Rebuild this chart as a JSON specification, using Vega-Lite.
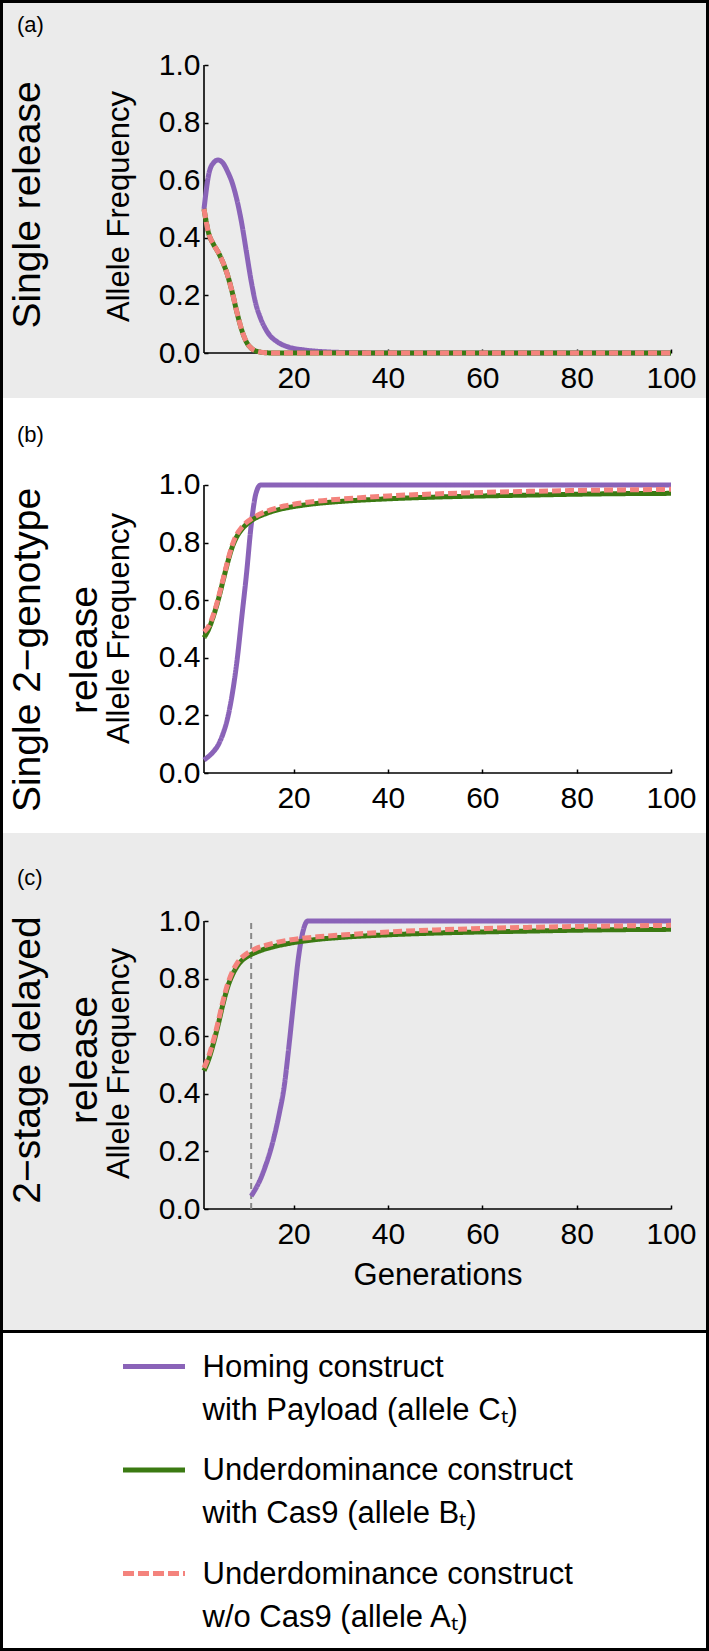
{
  "$schema": "https://vega.github.io/schema/vega-lite/v6.json",
  "background": "#000000",
  "padding": 3,
  "spacing": 3,
  "datasets": {
    "panels": [
      {"panel": "a", "tag": "(a)", "name": ["Single release"]},
      {"panel": "b", "tag": "(b)", "name": ["Single 2−genotype", "release"]},
      {"panel": "c", "tag": "(c)", "name": ["2−stage delayed", "release"], "release": 11}
    ],
    "constructs": [{"series": "C"}, {"series": "B"}, {"series": "A"}],
    "curves": [
      {"panel":"a","series":"C","x":1,"y":0.5},{"panel":"a","series":"C","x":2,"y":0.62},{"panel":"a","series":"C","x":3,"y":0.66},{"panel":"a","series":"C","x":4,"y":0.67},{"panel":"a","series":"C","x":5,"y":0.66},{"panel":"a","series":"C","x":6,"y":0.63},{"panel":"a","series":"C","x":7,"y":0.59},{"panel":"a","series":"C","x":8,"y":0.53},{"panel":"a","series":"C","x":9,"y":0.45},{"panel":"a","series":"C","x":10,"y":0.35},{"panel":"a","series":"C","x":11,"y":0.25},{"panel":"a","series":"C","x":12,"y":0.17},{"panel":"a","series":"C","x":13,"y":0.12},{"panel":"a","series":"C","x":14,"y":0.085},{"panel":"a","series":"C","x":15,"y":0.06},{"panel":"a","series":"C","x":16,"y":0.045},{"panel":"a","series":"C","x":17,"y":0.034},{"panel":"a","series":"C","x":18,"y":0.026},{"panel":"a","series":"C","x":20,"y":0.016},{"panel":"a","series":"C","x":22,"y":0.011},{"panel":"a","series":"C","x":25,"y":0.006},{"panel":"a","series":"C","x":30,"y":0.002},{"panel":"a","series":"C","x":40,"y":0},{"panel":"a","series":"C","x":60,"y":0},{"panel":"a","series":"C","x":80,"y":0},{"panel":"a","series":"C","x":100,"y":0},
      {"panel":"a","series":"B","x":1,"y":0.5},{"panel":"a","series":"B","x":2,"y":0.415},{"panel":"a","series":"B","x":3,"y":0.378},{"panel":"a","series":"B","x":4,"y":0.35},{"panel":"a","series":"B","x":5,"y":0.315},{"panel":"a","series":"B","x":6,"y":0.27},{"panel":"a","series":"B","x":7,"y":0.21},{"panel":"a","series":"B","x":8,"y":0.14},{"panel":"a","series":"B","x":9,"y":0.08},{"panel":"a","series":"B","x":10,"y":0.038},{"panel":"a","series":"B","x":11,"y":0.017},{"panel":"a","series":"B","x":12,"y":0.007},{"panel":"a","series":"B","x":13,"y":0.003},{"panel":"a","series":"B","x":14,"y":0.001},{"panel":"a","series":"B","x":16,"y":0},{"panel":"a","series":"B","x":20,"y":0},{"panel":"a","series":"B","x":40,"y":0},{"panel":"a","series":"B","x":60,"y":0},{"panel":"a","series":"B","x":80,"y":0},{"panel":"a","series":"B","x":100,"y":0},
      {"panel":"a","series":"A","x":1,"y":0.5},{"panel":"a","series":"A","x":2,"y":0.415},{"panel":"a","series":"A","x":3,"y":0.378},{"panel":"a","series":"A","x":4,"y":0.35},{"panel":"a","series":"A","x":5,"y":0.315},{"panel":"a","series":"A","x":6,"y":0.27},{"panel":"a","series":"A","x":7,"y":0.21},{"panel":"a","series":"A","x":8,"y":0.14},{"panel":"a","series":"A","x":9,"y":0.08},{"panel":"a","series":"A","x":10,"y":0.038},{"panel":"a","series":"A","x":11,"y":0.017},{"panel":"a","series":"A","x":12,"y":0.007},{"panel":"a","series":"A","x":13,"y":0.003},{"panel":"a","series":"A","x":14,"y":0.001},{"panel":"a","series":"A","x":16,"y":0},{"panel":"a","series":"A","x":20,"y":0},{"panel":"a","series":"A","x":40,"y":0},{"panel":"a","series":"A","x":60,"y":0},{"panel":"a","series":"A","x":80,"y":0},{"panel":"a","series":"A","x":100,"y":0},
      {"panel":"b","series":"C","x":1,"y":0.045},{"panel":"b","series":"C","x":2,"y":0.058},{"panel":"b","series":"C","x":3,"y":0.074},{"panel":"b","series":"C","x":4,"y":0.097},{"panel":"b","series":"C","x":5,"y":0.135},{"panel":"b","series":"C","x":6,"y":0.19},{"panel":"b","series":"C","x":7,"y":0.275},{"panel":"b","series":"C","x":8,"y":0.39},{"panel":"b","series":"C","x":9,"y":0.54},{"panel":"b","series":"C","x":10,"y":0.69},{"panel":"b","series":"C","x":11,"y":0.86},{"panel":"b","series":"C","x":12,"y":0.97},{"panel":"b","series":"C","x":13,"y":1.0},{"panel":"b","series":"C","x":20,"y":1.0},{"panel":"b","series":"C","x":40,"y":1.0},{"panel":"b","series":"C","x":60,"y":1.0},{"panel":"b","series":"C","x":80,"y":1.0},{"panel":"b","series":"C","x":100,"y":1.0},
      {"panel":"b","series":"B","x":1,"y":0.47},{"panel":"b","series":"B","x":2,"y":0.5},{"panel":"b","series":"B","x":3,"y":0.545},{"panel":"b","series":"B","x":4,"y":0.6},{"panel":"b","series":"B","x":5,"y":0.665},{"panel":"b","series":"B","x":6,"y":0.73},{"panel":"b","series":"B","x":7,"y":0.785},{"panel":"b","series":"B","x":8,"y":0.822},{"panel":"b","series":"B","x":9,"y":0.846},{"panel":"b","series":"B","x":10,"y":0.863},{"panel":"b","series":"B","x":11,"y":0.876},{"panel":"b","series":"B","x":12,"y":0.886},{"panel":"b","series":"B","x":14,"y":0.9},{"panel":"b","series":"B","x":16,"y":0.911},{"panel":"b","series":"B","x":18,"y":0.919},{"panel":"b","series":"B","x":20,"y":0.925},{"panel":"b","series":"B","x":25,"y":0.936},{"panel":"b","series":"B","x":30,"y":0.943},{"panel":"b","series":"B","x":40,"y":0.952},{"panel":"b","series":"B","x":50,"y":0.958},{"panel":"b","series":"B","x":60,"y":0.962},{"panel":"b","series":"B","x":70,"y":0.965},{"panel":"b","series":"B","x":80,"y":0.968},{"panel":"b","series":"B","x":90,"y":0.97},{"panel":"b","series":"B","x":100,"y":0.971},
      {"panel":"b","series":"A","x":1,"y":0.49},{"panel":"b","series":"A","x":2,"y":0.51},{"panel":"b","series":"A","x":3,"y":0.55},{"panel":"b","series":"A","x":4,"y":0.605},{"panel":"b","series":"A","x":5,"y":0.67},{"panel":"b","series":"A","x":6,"y":0.735},{"panel":"b","series":"A","x":7,"y":0.792},{"panel":"b","series":"A","x":8,"y":0.83},{"panel":"b","series":"A","x":9,"y":0.853},{"panel":"b","series":"A","x":10,"y":0.87},{"panel":"b","series":"A","x":11,"y":0.882},{"panel":"b","series":"A","x":12,"y":0.892},{"panel":"b","series":"A","x":14,"y":0.907},{"panel":"b","series":"A","x":16,"y":0.918},{"panel":"b","series":"A","x":18,"y":0.927},{"panel":"b","series":"A","x":20,"y":0.933},{"panel":"b","series":"A","x":25,"y":0.944},{"panel":"b","series":"A","x":30,"y":0.951},{"panel":"b","series":"A","x":40,"y":0.962},{"panel":"b","series":"A","x":50,"y":0.969},{"panel":"b","series":"A","x":60,"y":0.974},{"panel":"b","series":"A","x":70,"y":0.978},{"panel":"b","series":"A","x":80,"y":0.981},{"panel":"b","series":"A","x":90,"y":0.983},{"panel":"b","series":"A","x":100,"y":0.985},
      {"panel":"c","series":"C","x":11,"y":0.045},{"panel":"c","series":"C","x":12,"y":0.072},{"panel":"c","series":"C","x":13,"y":0.105},{"panel":"c","series":"C","x":14,"y":0.148},{"panel":"c","series":"C","x":15,"y":0.198},{"panel":"c","series":"C","x":16,"y":0.26},{"panel":"c","series":"C","x":17,"y":0.335},{"panel":"c","series":"C","x":18,"y":0.425},{"panel":"c","series":"C","x":19,"y":0.565},{"panel":"c","series":"C","x":20,"y":0.72},{"panel":"c","series":"C","x":21,"y":0.87},{"panel":"c","series":"C","x":22,"y":0.965},{"panel":"c","series":"C","x":23,"y":1.0},{"panel":"c","series":"C","x":30,"y":1.0},{"panel":"c","series":"C","x":40,"y":1.0},{"panel":"c","series":"C","x":60,"y":1.0},{"panel":"c","series":"C","x":80,"y":1.0},{"panel":"c","series":"C","x":100,"y":1.0},
      {"panel":"c","series":"B","x":1,"y":0.48},{"panel":"c","series":"B","x":2,"y":0.52},{"panel":"c","series":"B","x":3,"y":0.575},{"panel":"c","series":"B","x":4,"y":0.64},{"panel":"c","series":"B","x":5,"y":0.71},{"panel":"c","series":"B","x":6,"y":0.77},{"panel":"c","series":"B","x":7,"y":0.812},{"panel":"c","series":"B","x":8,"y":0.842},{"panel":"c","series":"B","x":9,"y":0.862},{"panel":"c","series":"B","x":10,"y":0.875},{"panel":"c","series":"B","x":11,"y":0.884},{"panel":"c","series":"B","x":12,"y":0.891},{"panel":"c","series":"B","x":14,"y":0.903},{"panel":"c","series":"B","x":16,"y":0.912},{"panel":"c","series":"B","x":18,"y":0.919},{"panel":"c","series":"B","x":20,"y":0.925},{"panel":"c","series":"B","x":25,"y":0.936},{"panel":"c","series":"B","x":30,"y":0.943},{"panel":"c","series":"B","x":40,"y":0.952},{"panel":"c","series":"B","x":50,"y":0.958},{"panel":"c","series":"B","x":60,"y":0.962},{"panel":"c","series":"B","x":70,"y":0.965},{"panel":"c","series":"B","x":80,"y":0.968},{"panel":"c","series":"B","x":90,"y":0.97},{"panel":"c","series":"B","x":100,"y":0.971},
      {"panel":"c","series":"A","x":1,"y":0.49},{"panel":"c","series":"A","x":2,"y":0.53},{"panel":"c","series":"A","x":3,"y":0.585},{"panel":"c","series":"A","x":4,"y":0.65},{"panel":"c","series":"A","x":5,"y":0.72},{"panel":"c","series":"A","x":6,"y":0.78},{"panel":"c","series":"A","x":7,"y":0.823},{"panel":"c","series":"A","x":8,"y":0.853},{"panel":"c","series":"A","x":9,"y":0.873},{"panel":"c","series":"A","x":10,"y":0.886},{"panel":"c","series":"A","x":11,"y":0.896},{"panel":"c","series":"A","x":12,"y":0.904},{"panel":"c","series":"A","x":14,"y":0.915},{"panel":"c","series":"A","x":16,"y":0.924},{"panel":"c","series":"A","x":18,"y":0.931},{"panel":"c","series":"A","x":20,"y":0.936},{"panel":"c","series":"A","x":25,"y":0.945},{"panel":"c","series":"A","x":30,"y":0.951},{"panel":"c","series":"A","x":40,"y":0.962},{"panel":"c","series":"A","x":50,"y":0.969},{"panel":"c","series":"A","x":60,"y":0.974},{"panel":"c","series":"A","x":70,"y":0.978},{"panel":"c","series":"A","x":80,"y":0.981},{"panel":"c","series":"A","x":90,"y":0.983},{"panel":"c","series":"A","x":100,"y":0.985}
    ]
  },
  "resolve": {"scale": {"color": "independent", "strokeDash": "independent"}},
  "vconcat": [
    {
      "spacing": 0,
      "bounds": "flush",
      "vconcat": [
        {
          "width": 703, "height": 395,
          "view": {"fill": "#ebebeb", "stroke": null},
          "layer": [
            {
              "data": {"name": "panels"}, "transform": [{"filter": "datum.panel === 'a'"}],
              "mark": {"type": "rule", "color": "#000000", "strokeWidth": 1.6},
              "encoding": {"x": {"datum": 1}, "x2": {"datum": 100}, "y": {"datum": 0}}
            },
            {
              "data": {"name": "panels"}, "transform": [{"filter": "datum.panel === 'a'"}],
              "mark": {"type": "rule", "color": "#000000", "strokeWidth": 1.6},
              "encoding": {"x": {"datum": 1}, "y": {"datum": 0}, "y2": {"datum": 1}}
            },
            {
              "data": {"name": "curves"}, "transform": [{"filter": "datum.panel === 'a'"}],
              "mark": {"type": "line", "strokeWidth": 5, "interpolate": "monotone"},
              "encoding": {
                "x": {"field": "x", "type": "quantitative", "scale": {"domain": [-41.6103, 107.4197], "nice": false, "zero": false},
                      "axis": {"values": [20, 40, 60, 80, 100], "format": "d", "offset": -45, "title": null}},
                "y": {"field": "y", "type": "quantitative", "scale": {"domain": [-0.15625, 1.215278], "nice": false, "zero": false},
                      "axis": {"values": [0, 0.2, 0.4, 0.6, 0.8, 1], "format": ".1f", "offset": -201, "title": "Allele Frequency",
                               "titleX": -76, "titleY": 203, "titleAngle": 270, "titleAlign": "center", "titleBaseline": "alphabetic"}},
                "color": {"field": "series", "type": "nominal", "scale": {"domain": ["C", "B", "A"], "range": ["#8a63b8", "#3b7a12", "#f4837d"]}, "legend": null},
                "strokeDash": {"field": "series", "type": "nominal", "scale": {"domain": ["C", "B", "A"], "range": [[1, 0], [1, 0], [9, 4]]}, "legend": null}
              }
            },
            {
              "data": {"name": "panels"}, "transform": [{"filter": "datum.panel === 'a'"}],
              "mark": {"type": "text", "align": "left", "baseline": "middle", "fontSize": 22},
              "encoding": {"x": {"datum": -38.6424}, "y": {"datum": 1.138889}, "text": {"field": "tag"}}
            },
            {
              "data": {"name": "panels"}, "transform": [{"filter": "datum.panel === 'a'"}],
              "mark": {"type": "text", "angle": 270, "align": "center", "baseline": "alphabetic", "fontSize": 39, "lineHeight": 57},
              "encoding": {"x": {"datum": -33.7666}, "y": {"datum": 0.513889}, "text": {"field": "name"}}
            }
          ]
        },
        {
          "width": 703, "height": 435,
          "view": {"fill": "#ffffff", "stroke": null},
          "layer": [
            {
              "data": {"name": "panels"}, "transform": [{"filter": "datum.panel === 'b'"}],
              "mark": {"type": "rule", "color": "#000000", "strokeWidth": 1.6},
              "encoding": {"x": {"datum": 1}, "x2": {"datum": 100}, "y": {"datum": 0}}
            },
            {
              "data": {"name": "panels"}, "transform": [{"filter": "datum.panel === 'b'"}],
              "mark": {"type": "rule", "color": "#000000", "strokeWidth": 1.6},
              "encoding": {"x": {"datum": 1}, "y": {"datum": 0}, "y2": {"datum": 1}}
            },
            {
              "data": {"name": "curves"}, "transform": [{"filter": "datum.panel === 'b'"}],
              "mark": {"type": "line", "strokeWidth": 5, "interpolate": "monotone"},
              "encoding": {
                "x": {"field": "x", "type": "quantitative", "scale": {"domain": [-41.6103, 107.4197], "nice": false, "zero": false},
                      "axis": {"values": [20, 40, 60, 80, 100], "format": "d", "offset": -60, "title": null}},
                "y": {"field": "y", "type": "quantitative", "scale": {"domain": [-0.208333, 1.302083], "nice": false, "zero": false},
                      "axis": {"values": [0, 0.2, 0.4, 0.6, 0.8, 1], "format": ".1f", "offset": -201, "title": "Allele Frequency",
                               "titleX": -76, "titleY": 230, "titleAngle": 270, "titleAlign": "center", "titleBaseline": "alphabetic"}},
                "color": {"field": "series", "type": "nominal", "scale": {"domain": ["C", "B", "A"], "range": ["#8a63b8", "#3b7a12", "#f4837d"]}, "legend": null},
                "strokeDash": {"field": "series", "type": "nominal", "scale": {"domain": ["C", "B", "A"], "range": [[1, 0], [1, 0], [9, 4]]}, "legend": null}
              }
            },
            {
              "data": {"name": "panels"}, "transform": [{"filter": "datum.panel === 'b'"}],
              "mark": {"type": "text", "align": "left", "baseline": "middle", "fontSize": 22},
              "encoding": {"x": {"datum": -38.6424}, "y": {"datum": 1.173611}, "text": {"field": "tag"}}
            },
            {
              "data": {"name": "panels"}, "transform": [{"filter": "datum.panel === 'b'"}],
              "mark": {"type": "text", "angle": 270, "align": "center", "baseline": "alphabetic", "fontSize": 39, "lineHeight": 57},
              "encoding": {"x": {"datum": -33.7666}, "y": {"datum": 0.427083}, "text": {"field": "name"}}
            }
          ]
        },
        {
          "width": 703, "height": 497,
          "view": {"fill": "#ebebeb", "stroke": null},
          "layer": [
            {
              "data": {"name": "panels"}, "transform": [{"filter": "datum.panel === 'c'"}],
              "mark": {"type": "rule", "color": "#000000", "strokeWidth": 1.6},
              "encoding": {"x": {"datum": 1}, "x2": {"datum": 100}, "y": {"datum": 0}}
            },
            {
              "data": {"name": "panels"}, "transform": [{"filter": "datum.panel === 'c'"}],
              "mark": {"type": "rule", "color": "#000000", "strokeWidth": 1.6},
              "encoding": {"x": {"datum": 1}, "y": {"datum": 0}, "y2": {"datum": 1}}
            },
            {
              "data": {"name": "panels"}, "transform": [{"filter": "datum.panel === 'c'"}],
              "mark": {"type": "rule", "color": "#888888", "strokeWidth": 2, "strokeDash": [6, 4]},
              "encoding": {"x": {"field": "release", "type": "quantitative"}, "y": {"datum": 0}, "y2": {"datum": 1}}
            },
            {
              "data": {"name": "curves"}, "transform": [{"filter": "datum.panel === 'c'"}],
              "mark": {"type": "line", "strokeWidth": 5, "interpolate": "monotone"},
              "encoding": {
                "x": {"field": "x", "type": "quantitative", "scale": {"domain": [-41.6103, 107.4197], "nice": false, "zero": false},
                      "axis": {"values": [20, 40, 60, 80, 100], "format": "d", "offset": -121, "title": "Generations",
                               "titleX": 434.5, "titleY": 75, "titleAlign": "center", "titleBaseline": "alphabetic"}},
                "y": {"field": "y", "type": "quantitative", "scale": {"domain": [-0.420139, 1.305556], "nice": false, "zero": false},
                      "axis": {"values": [0, 0.2, 0.4, 0.6, 0.8, 1], "format": ".1f", "offset": -201, "title": "Allele Frequency",
                               "titleX": -76, "titleY": 230, "titleAngle": 270, "titleAlign": "center", "titleBaseline": "alphabetic"}},
                "color": {"field": "series", "type": "nominal", "scale": {"domain": ["C", "B", "A"], "range": ["#8a63b8", "#3b7a12", "#f4837d"]}, "legend": null},
                "strokeDash": {"field": "series", "type": "nominal", "scale": {"domain": ["C", "B", "A"], "range": [[1, 0], [1, 0], [9, 4]]}, "legend": null}
              }
            },
            {
              "data": {"name": "panels"}, "transform": [{"filter": "datum.panel === 'c'"}],
              "mark": {"type": "text", "align": "left", "baseline": "middle", "fontSize": 22},
              "encoding": {"x": {"datum": -38.6424}, "y": {"datum": 1.149306}, "text": {"field": "tag"}}
            },
            {
              "data": {"name": "panels"}, "transform": [{"filter": "datum.panel === 'c'"}],
              "mark": {"type": "text", "angle": 270, "align": "center", "baseline": "alphabetic", "fontSize": 39, "lineHeight": 57},
              "encoding": {"x": {"datum": -33.7666}, "y": {"datum": 0.517362}, "text": {"field": "name"}}
            }
          ]
        }
      ]
    },
    {
      "width": 703, "height": 315,
      "view": {"fill": "#ffffff", "stroke": null},
      "data": {"name": "constructs"},
      "mark": {"type": "line", "strokeWidth": 5},
      "encoding": {
        "color": {"field": "series", "type": "nominal", "scale": {"domain": ["C", "B", "A"], "range": ["#8a63b8", "#3b7a12", "#f4837d"]},
                  "legend": {"orient": "none", "legendX": 117.5, "legendY": 0, "title": null, "padding": 0,
                             "symbolType": "stroke", "symbolSize": 3844, "symbolStrokeWidth": 5,
                             "labelFont": "Liberation Sans", "labelFontSize": 31, "labelColor": "#000000", "labelLimit": 0, "labelOffset": 15,
                             "rowPadding": 10.5,
                             "labelExpr": "datum.value == 'C' ? ['Homing construct', 'with Payload (allele Cₜ)'] : datum.value == 'B' ? ['Underdominance construct', 'with Cas9 (allele Bₜ)'] : ['Underdominance construct', 'w/o Cas9 (allele Aₜ)']",
                             "encode": {"labels": {"update": {"lineHeight": {"value": 43}, "dy": {"value": 1}}}}}},
        "strokeDash": {"field": "series", "type": "nominal", "scale": {"domain": ["C", "B", "A"], "range": [[1, 0], [1, 0], [11, 4]]}}
      }
    }
  ],
  "config": {
    "view": {"stroke": null},
    "font": "Liberation Sans",
    "axis": {"domain": false, "grid": false, "labelFont": "Liberation Sans", "labelFontSize": 30, "labelColor": "#000000",
             "tickColor": "#000000", "tickSize": -4, "tickWidth": 1.5, "titleFont": "Liberation Sans", "titleFontSize": 31,
             "titleFontWeight": "normal", "titleColor": "#000000", "labelFlush": false, "labelOverlap": false},
    "axisX": {"labelPadding": 14},
    "axisY": {"labelPadding": 8},
    "text": {"font": "Liberation Sans", "color": "#000000"}
  }
}
